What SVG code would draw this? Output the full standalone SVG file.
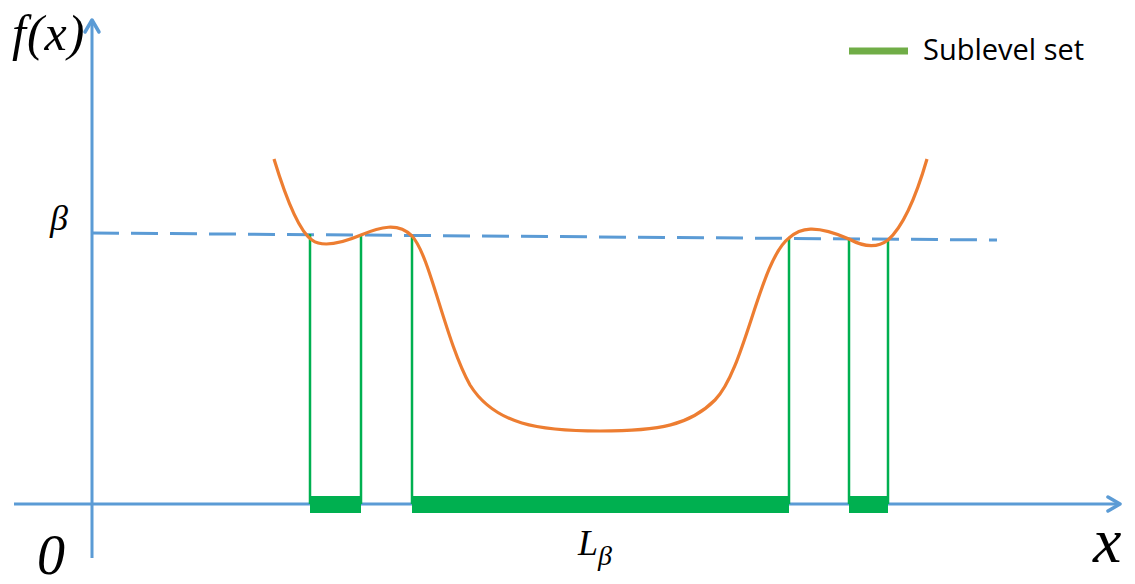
<svg xmlns="http://www.w3.org/2000/svg" width="1135" height="584" viewBox="0 0 1135 584">
<style>
.axis{stroke:#5B9BD5;stroke-width:3;fill:none}
.head{stroke:#5B9BD5;stroke-width:3.5;fill:none;stroke-linecap:round;stroke-linejoin:round}
.vline{stroke:#00B050;stroke-width:2.5}
.bar{fill:#00B050}
.math{font-family:"Liberation Serif","DejaVu Serif",serif;font-style:italic;fill:#000}
</style>
<rect width="1135" height="584" fill="#fff"/>
<g id="connectors">
<line class="axis" x1="14" y1="504" x2="1120" y2="504"/>
<polyline class="head" points="1108,497 1120,504 1108,511"/>
<line class="axis" x1="92" y1="558" x2="92" y2="20"/>
<polyline class="head" points="85,32 92,20 99,32"/>
<line x1="92" y1="233" x2="997" y2="240" stroke="#5B9BD5" stroke-width="3" stroke-dasharray="27,12"/>
</g>
<g id="sublevel-lines">
<line class="vline" x1="310" y1="234" x2="310" y2="504"/>
<line class="vline" x1="361" y1="234" x2="361" y2="504"/>
<line class="vline" x1="412" y1="235" x2="412" y2="504"/>
<line class="vline" x1="789" y1="238" x2="789" y2="504"/>
<line class="vline" x1="849" y1="239" x2="849" y2="504"/>
<line class="vline" x1="888" y1="239" x2="888" y2="504"/>
<rect class="bar" x="310" y="496" width="51" height="17"/>
<rect class="bar" x="412" y="496" width="377" height="17"/>
<rect class="bar" x="849" y="496" width="39" height="17"/>
</g>
<g id="curve">
<path d="M274,159 C288,205 300,232 312,240 C320,246 335,246 361,235 C380,227 398,222 412,236 C430,255 445,340 470,385 C495,425 540,431 600,431 C660,431 690,425 715,400 C745,370 760,260 789,238 C800,228 815,224 849,239 C860,245 875,250 888,240 C905,225 918,190 927,159" fill="none" stroke="#ED7D31" stroke-width="3.2"/>
</g>
<g id="legend">
<line x1="849" y1="51" x2="908" y2="51" stroke="#70AD47" stroke-width="7"/>
<text x="923" y="60" font-family="Open Sans, sans-serif" font-size="29" fill="#000">Sublevel set</text>
</g>
<g id="labels">
<text class="math" x="12" y="50" font-size="50" letter-spacing="1">f(x)</text>
<text class="math" x="50" y="230" font-size="36">β</text>
<text class="math" x="37" y="574" font-size="56">0</text>
<text class="math" x="1093" y="562" font-size="64">x</text>
<text class="math" x="578" y="555" font-size="36">L<tspan font-size="28" dy="10">β</tspan></text>
</g>
</svg>
